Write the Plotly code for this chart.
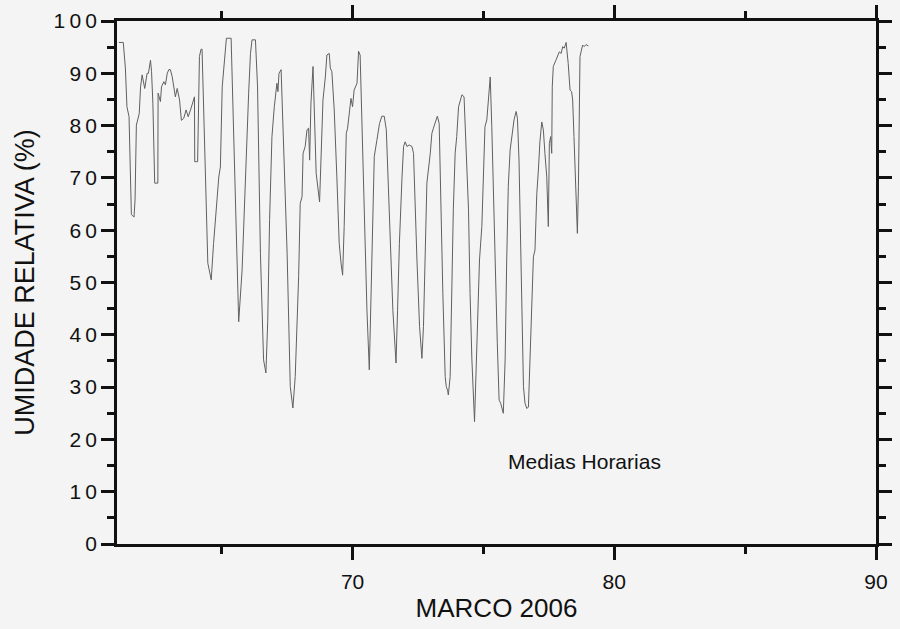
import plotly.graph_objects as go

# Hourly mean relative humidity, March 2006 (day of year vs. %)
day = [
    61.07, 61.24, 61.32, 61.38, 61.46, 61.55, 61.65, 61.69, 61.74, 61.85, 61.90, 61.96,
    62.06, 62.15, 62.20, 62.28, 62.32, 62.37, 62.44, 62.56, 62.57, 62.66, 62.70, 62.79,
    62.85, 62.92, 62.98,
    63.04, 63.11, 63.23, 63.30, 63.39, 63.46, 63.55, 63.64, 63.72, 63.81, 63.96, 63.97,
    64.08, 64.15, 64.21, 64.25, 64.31, 64.42, 64.47, 64.60, 64.69, 64.89, 64.95,
    65.02, 65.10, 65.18, 65.36, 65.40, 65.52, 65.61, 65.65, 65.78, 65.90,
    66.03, 66.10, 66.16, 66.29, 66.37, 66.48, 66.60, 66.69, 66.76, 66.83, 66.92,
    67.01, 67.11, 67.15, 67.19, 67.27, 67.37, 67.50, 67.62, 67.72, 67.81, 67.94,
    68.00, 68.07, 68.11, 68.19, 68.26, 68.32, 68.36, 68.41, 68.49, 68.55, 68.61, 68.74,
    68.81, 68.87, 68.96,
    69.02, 69.11, 69.15, 69.21, 69.30, 69.40, 69.49, 69.56, 69.62, 69.68, 69.76, 69.81,
    69.87, 69.94,
    70.00, 70.06, 70.17, 70.23, 70.29, 70.36, 70.45, 70.55, 70.64, 70.70, 70.78, 70.83,
    70.93,
    71.03, 71.12, 71.21, 71.29, 71.37, 71.47, 71.54, 71.63, 71.66, 71.72, 71.79, 71.89,
    71.95,
    72.01, 72.08, 72.16, 72.27, 72.33, 72.39, 72.46, 72.56, 72.65, 72.71, 72.77, 72.84,
    72.97,
    73.03, 73.09, 73.16, 73.24, 73.31, 73.37, 73.45, 73.54, 73.58, 73.63, 73.66, 73.73,
    73.79, 73.85, 73.92, 73.98,
    74.05, 74.11, 74.18, 74.26, 74.37, 74.43, 74.49, 74.56, 74.66, 74.72, 74.77, 74.85,
    74.94,
    75.00, 75.06, 75.13, 75.19, 75.26, 75.32, 75.38, 75.45, 75.53, 75.60, 75.66, 75.76,
    75.83, 75.89, 75.95,
    76.02, 76.08, 76.17, 76.25, 76.30, 76.36, 76.43, 76.49, 76.53, 76.59, 76.66, 76.72,
    76.78, 76.85, 76.91, 76.97,
    77.04, 77.10, 77.16, 77.23, 77.29, 77.35, 77.42, 77.48, 77.52, 77.57, 77.61, 77.63,
    77.67, 77.77, 77.84, 77.90, 77.97,
    78.03, 78.09, 78.16, 78.24, 78.31, 78.37, 78.41, 78.46, 78.53, 78.59, 78.63, 78.66,
    78.69, 78.79, 78.85, 78.92, 79.01,
]

umidade = [
    95.9, 95.9, 91.0, 83.6, 81.7, 63.0, 62.5, 65.8, 80.1, 82.3, 87.4, 89.7,
    87.1, 90.0, 90.0, 92.5, 90.3, 84.3, 69.0, 69.0, 86.2, 84.6, 87.4, 88.4,
    87.8, 90.0, 90.7,
    90.7, 89.3, 85.5, 87.1, 84.9, 81.0, 81.4, 83.0, 81.7, 83.0, 85.5, 73.1,
    73.1, 93.2, 94.6, 94.6, 83.0, 63.9, 53.7, 50.5, 57.5, 70.2, 72.1,
    87.4, 92.5, 96.7, 96.7, 89.3, 62.6, 46.0, 42.5, 52.4, 69.6,
    86.2, 93.8, 96.4, 96.4, 87.4, 55.6, 35.2, 32.7, 42.8, 62.0, 77.9,
    83.6, 88.1, 86.5, 90.0, 90.7, 76.0, 55.6, 30.1, 26.0, 32.0, 51.1,
    65.1, 66.4, 74.7, 76.0, 79.2, 79.5, 73.4, 84.3, 91.3, 79.8, 70.9, 65.4,
    76.6, 84.9, 89.3,
    93.5, 93.8, 91.0, 90.3, 83.0, 70.2, 57.5, 53.7, 51.4, 60.7, 78.5, 79.5,
    82.3, 85.2,
    83.6, 86.8, 88.1, 94.2, 93.5, 79.8, 63.9, 44.7, 33.3, 44.7, 60.7, 74.1,
    77.2,
    80.4, 81.8, 81.8, 79.2, 66.4, 54.3, 44.7, 35.2, 34.6, 44.7, 57.5, 70.2,
    76.0,
    76.9, 76.0, 76.3, 76.0, 74.7, 63.9, 54.3, 41.6, 35.5, 41.6, 54.3, 69.0,
    74.7,
    78.5, 79.5, 80.4, 81.8, 80.4, 63.9, 47.9, 32.0, 30.1, 29.4, 28.5, 32.0,
    47.9, 63.9, 74.7, 77.9,
    83.6, 84.9, 85.9, 85.5, 73.4, 63.9, 47.9, 35.2, 23.4, 32.0, 42.8, 54.3,
    60.7,
    70.2, 79.8, 81.1, 84.9, 89.3, 79.8, 67.0, 54.3, 38.4, 27.5, 26.9, 25.0,
    35.2, 54.3, 68.3,
    75.3, 77.9, 81.1, 82.7, 81.4, 73.4, 57.5, 41.6, 30.1, 26.9, 25.9, 26.2,
    35.2, 47.9, 54.9, 56.2,
    67.0, 71.5, 77.0, 80.7, 79.2, 74.7, 70.2, 60.7, 76.6, 77.9, 74.7, 87.4,
    91.3, 92.5, 93.5, 94.1, 93.8,
    95.1, 94.8, 95.9, 91.9, 86.8, 86.5, 84.9, 77.9, 68.3, 59.4, 68.3, 81.1,
    93.2, 95.4, 95.1, 95.5, 95.2,
]

x_ticks = [70, 80, 90]
x_minor = [65, 75, 85]
y_ticks = [0, 10, 20, 30, 40, 50, 60, 70, 80, 90, 100]
y_minor = [5, 15, 25, 35, 45, 55, 65, 75, 85, 95]
y_labels = ["\u2009".join(str(v)) for v in y_ticks]

FONT = "Liberation Sans, Arial, Helvetica, sans-serif"
BG = "#f3f4f3"

fig = go.Figure()
fig.add_trace(go.Scatter(
    x=day, y=umidade, mode="lines",
    line=dict(color="#606060", width=1),
    showlegend=False, hoverinfo="skip",
))

fig.add_annotation(
    x=0.513, y=0.157, xref="paper", yref="paper",
    text="Medias Horarias", showarrow=False,
    font=dict(family=FONT, size=21, color="#111"),
    xanchor="left", yanchor="middle",
)

axis_common = dict(
    showline=True, linecolor="#111", linewidth=2.5,
    ticks="outside", tickcolor="#111", tickwidth=2.5, ticklen=13,
    mirror="allticks", showgrid=False, zeroline=False, automargin=False,
    tickfont=dict(family=FONT, size=21, color="#111"),
)

fig.update_xaxes(
    range=[61, 90], tickvals=x_ticks, ticklabelstandoff=4,
    minor=dict(tickvals=x_minor, ticks="outside", ticklen=7, tickwidth=2.5, tickcolor="#111"),
    title=dict(text="MARCO 2006", font=dict(family=FONT, size=26, color="#111"), standoff=7),
    **axis_common,
)
fig.update_yaxes(
    range=[0, 100], tickvals=y_ticks, ticktext=y_labels,
    minor=dict(tickvals=y_minor, ticks="outside", ticklen=7, tickwidth=2.5, tickcolor="#111"),
    title=dict(text="UMIDADE RELATIVA (%)", font=dict(family=FONT, size=27, color="#111"), standoff=12),
    **axis_common,
)

fig.update_layout(
    width=900, height=629,
    margin=dict(l=117, r=24, t=21, b=85),
    paper_bgcolor=BG, plot_bgcolor=BG,
)

fig.write_html("out.html")
